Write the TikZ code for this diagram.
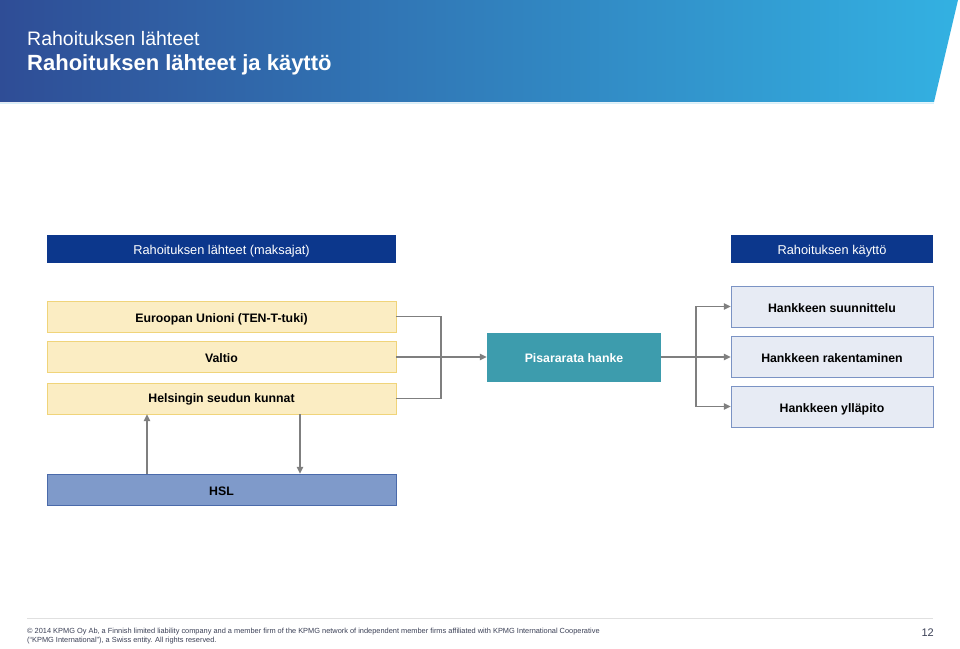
\documentclass[tikz,border=0pt]{standalone}
\usepackage{fontspec}
\setmainfont{Liberation Sans}
\usetikzlibrary{arrows.meta}

\definecolor{hdrleft}{HTML}{2F4D96}
\definecolor{hdrright}{HTML}{33B1E2}
\definecolor{navy}{HTML}{0C378C}
\definecolor{srcfill}{HTML}{FBEDC3}
\definecolor{srcline}{HTML}{F0D47A}
\definecolor{hslfill}{HTML}{7F9ACA}
\definecolor{hslline}{HTML}{4A6AAA}
\definecolor{teal}{HTML}{3D9CAD}
\definecolor{usefill}{HTML}{E7EBF4}
\definecolor{useline}{HTML}{7B93C4}
\definecolor{conngray}{HTML}{7F7F7F}
\definecolor{foottext}{HTML}{3A3F55}

\tikzset{
  box/.style={rectangle,inner sep=0pt,text height=11pt,text depth=0pt,font=\bfseries\fontsize{12.3}{14}\selectfont,text=black},
  headbox/.style={box,fill=navy,text=white,font=\fontsize{12.8}{14}\selectfont,text height=11.2pt,minimum height=28pt},
  srcbox/.style={box,fill=srcfill,draw=srcline,minimum width=349pt,minimum height=31pt},
  usebox/.style={box,fill=usefill,draw=useline,minimum width=202pt,minimum height=41pt},
  conn/.style={draw=conngray,line width=1.3pt},
  arr/.style={conn,-{Triangle[length=7pt,width=6.5pt]}}
}

\begin{document}
\begin{tikzpicture}[x=1pt,y=-1pt]
  \useasboundingbox (0,0) rectangle (960,648);
  %\draw[very thin,lightgray] (0,0) grid[step=50] (960,648);
  % header band
  \shade[left color=hdrleft,right color=hdrright] (0,0)--(958,0)--(934,102)--(0,102)--cycle;
  \draw[hdrright!20,line width=0.8pt] (0,103.5)--(934,103.5);
  \node[anchor=base west,text=white,inner sep=0pt,font=\fontsize{19.5}{22}\selectfont] (sub) at (27,45) {Rahoituksen lähteet};
  \node[anchor=base west,text=white,inner sep=0pt,font=\bfseries\fontsize{22}{24}\selectfont] (title) at (27,70) {Rahoituksen lähteet ja käyttö};

  % column headers
  \node[headbox,minimum width=349pt] (srchead) at (221.5,249) {Rahoituksen lähteet (maksajat)};
  \node[headbox,minimum width=202pt] (usehead) at (832,249) {Rahoituksen käyttö};

  % sources
  \node[srcbox] (eu) at (221.5,316.5) {Euroopan Unioni (TEN-T-tuki)};
  \node[srcbox] (valtio) at (221.5,357) {Valtio};
  \node[srcbox] (kunnat) at (221.5,398.5) {\raisebox{1.5pt}{Helsingin seudun kunnat}};
  \node[box,fill=hslfill,draw=hslline,minimum width=349pt,minimum height=31pt] (hsl) at (221.5,489.5) {HSL};

  % project
  \node[box,fill=teal,text=white,minimum width=174pt,minimum height=49pt] (pisara) at (574,357) {Pisararata hanke};

  % uses
  \node[usebox] (suun) at (832,306.5) {Hankkeen suunnittelu};
  \node[usebox] (rak) at (832,357) {Hankkeen rakentaminen};
  \node[usebox] (yll) at (832,406.5) {Hankkeen ylläpito};

  \coordinate (jl) at (441,357);
  \coordinate (jr) at (696,357);

  \draw[conn] (eu.east) -| (jl);
  \draw[conn] (kunnat.east) -| (jl);
  \draw[arr] (valtio.east) -- (pisara.west);
  \draw[conn] (pisara.east) -- (jr);
  \draw[arr] (jr) |- (suun.west);
  \draw[arr] (jr) -- (rak.west);
  \draw[arr] (jr) |- (yll.west);
  \draw[arr] (hsl.north -| 147,0) -- (kunnat.south -| 147,0);
  \draw[arr] (kunnat.south -| 300,0) -- (hsl.north -| 300,0);

  % footer
  \draw[black!12,line width=0.8pt] (27,618.5)--(933,618.5);
  \node[anchor=base west,align=left,inner sep=0pt,text=foottext,font=\fontsize{7.4}{9}\selectfont] (foot) at (27,642)
    {© 2014 KPMG Oy Ab, a Finnish limited liability company and a member firm of the KPMG network of independent member firms affiliated with KPMG International Cooperative\\
     (“KPMG International”), a Swiss entity. All rights reserved.};
  \node[anchor=base east,inner sep=0pt,text=foottext,font=\fontsize{11}{13}\selectfont] (page) at (934,636) {12};
\end{tikzpicture}
\end{document}
